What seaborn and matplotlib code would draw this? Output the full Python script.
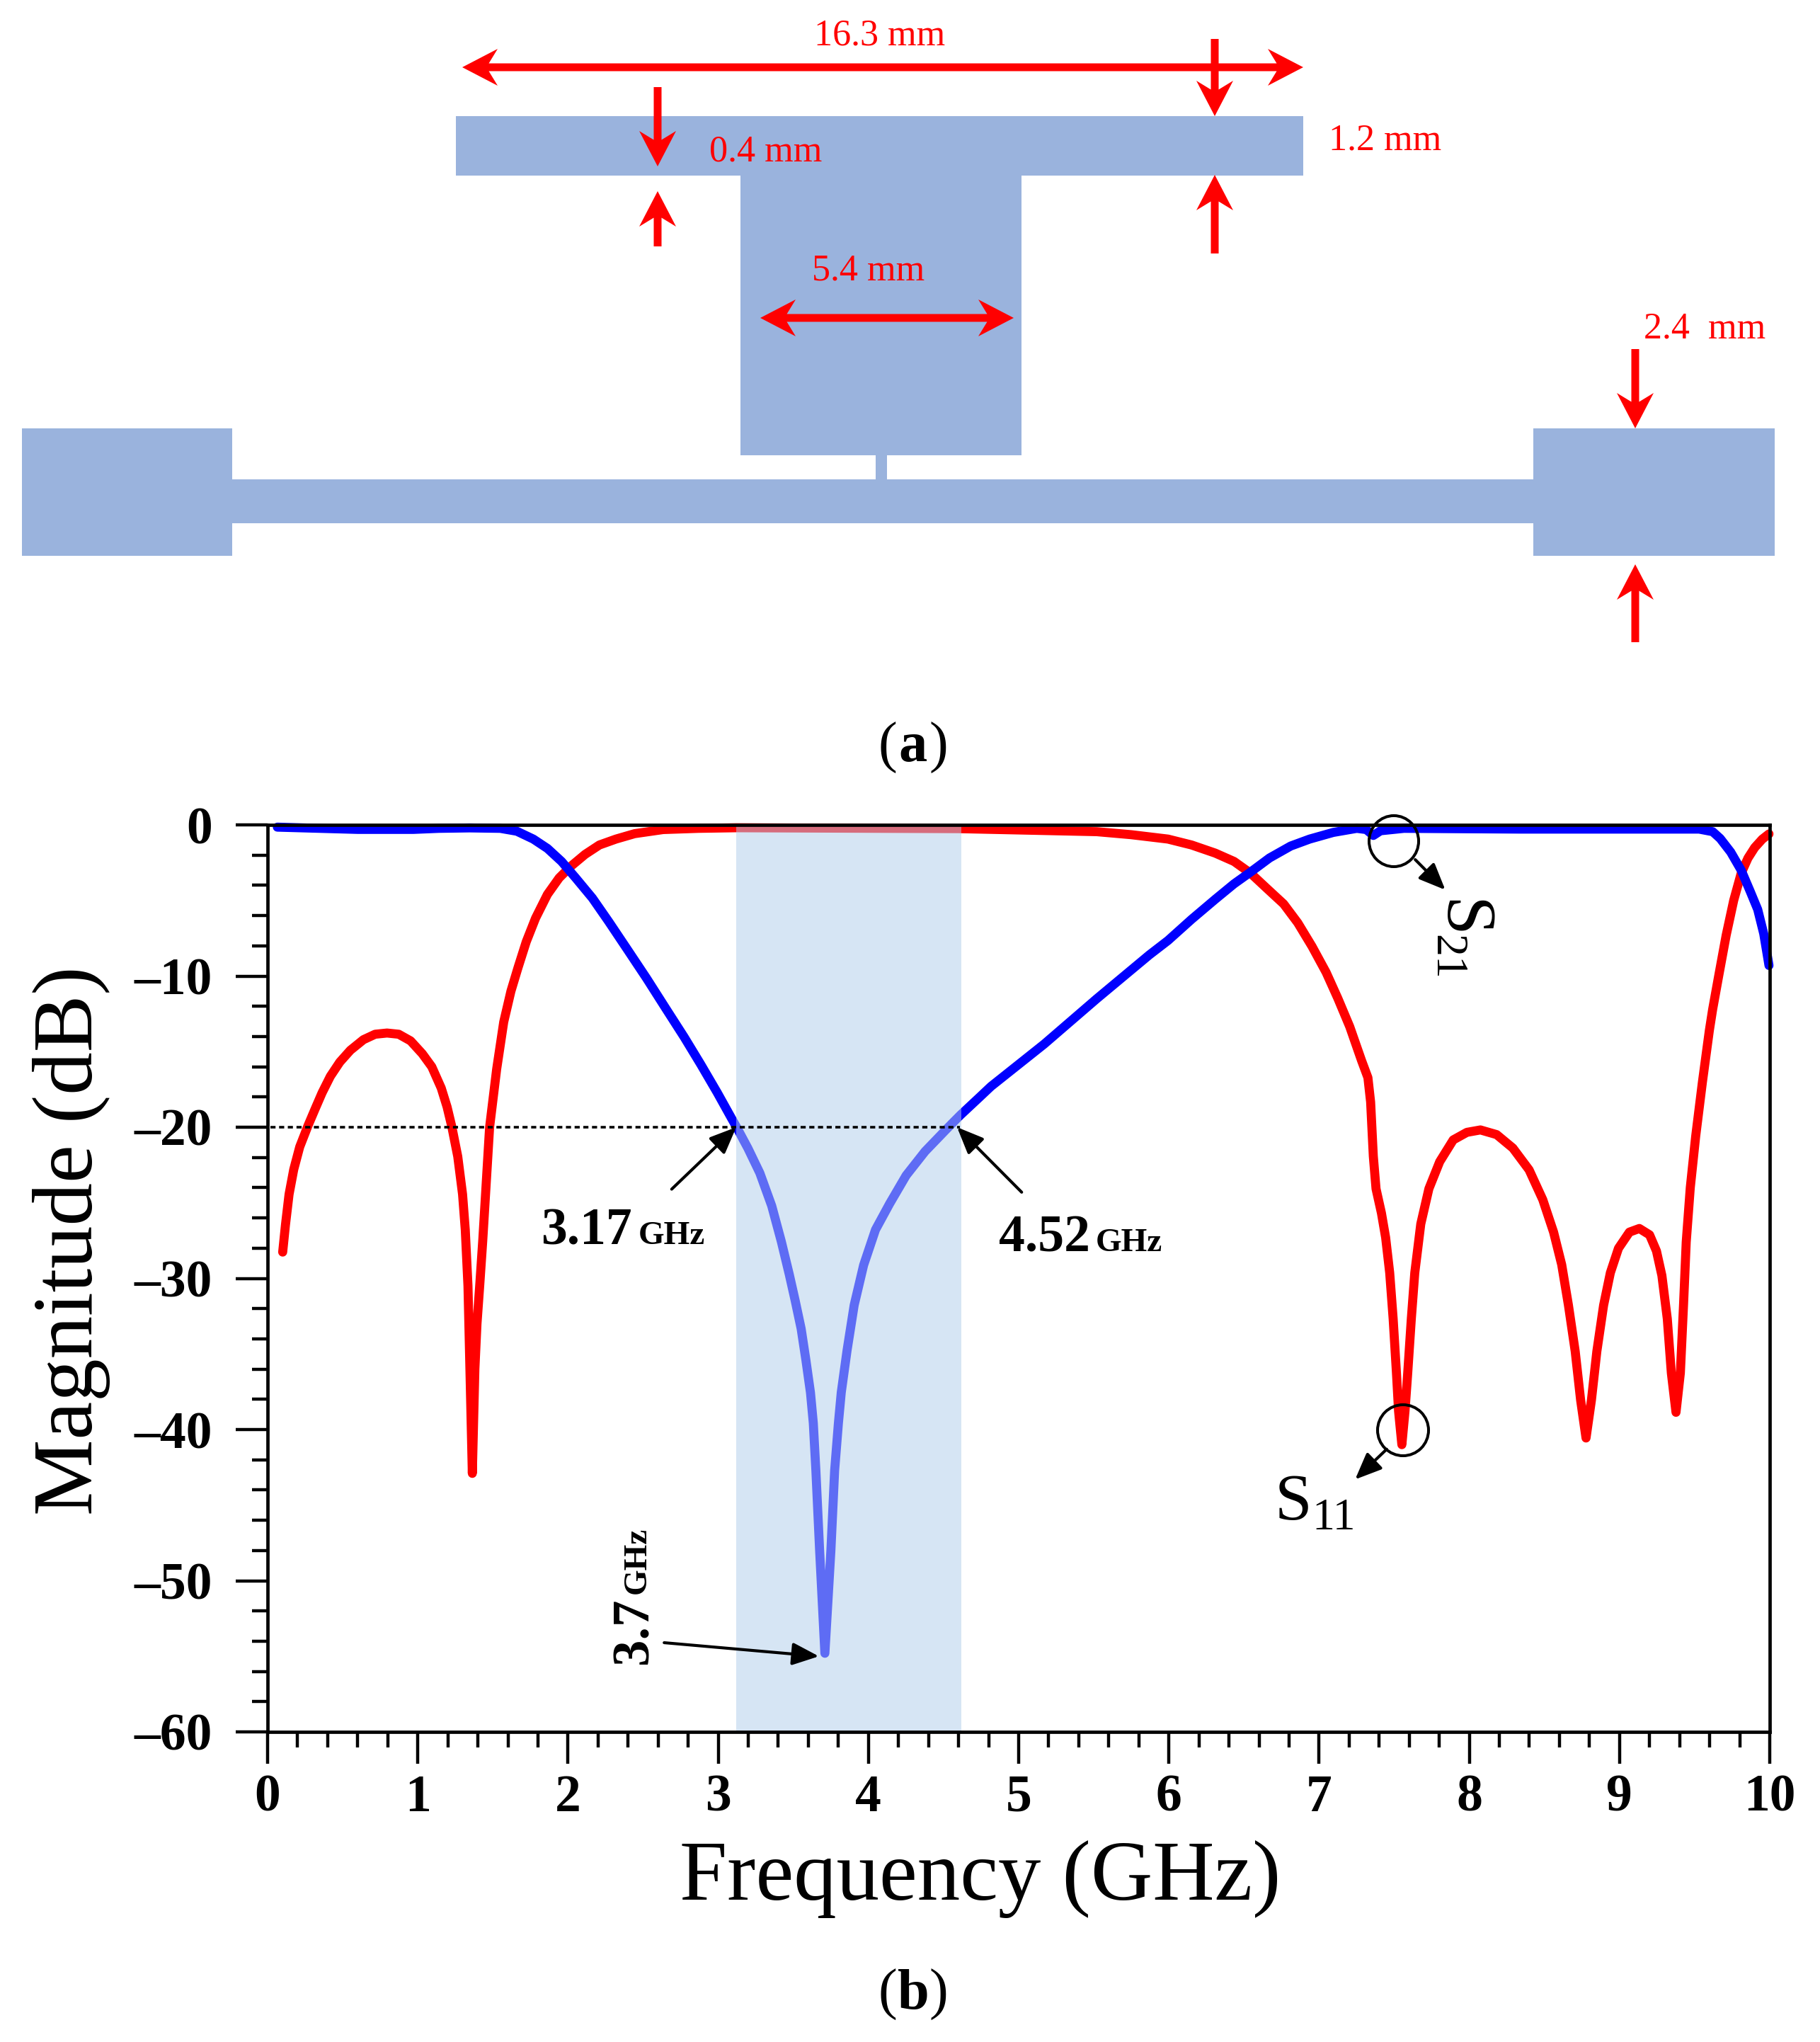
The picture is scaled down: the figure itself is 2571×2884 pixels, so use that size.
# S-parameter plot with the filter layout above it
import matplotlib
matplotlib.use('agg')
import matplotlib.pyplot as plt
from matplotlib.patches import Rectangle, Ellipse
from matplotlib.ticker import MultipleLocator
import seaborn as sns

s11_freq = [0.1005, 0.119, 0.143, 0.174, 0.214, 0.269, 0.316, 0.363, 0.418, 0.481, 0.551, 0.638, 0.716, 0.795,
            0.873, 0.952, 1.03, 1.093, 1.156, 1.195, 1.227, 1.266, 1.298, 1.316, 1.334, 1.347, 1.363, 1.38, 1.394,
            1.412, 1.432, 1.451, 1.478, 1.525, 1.572, 1.62, 1.667, 1.722, 1.784, 1.863, 1.941, 2.02, 2.114,
            2.209, 2.319, 2.444, 2.633, 2.868, 3.12, 4.6, 5.29, 5.52, 5.75, 5.994, 6.151, 6.309, 6.434, 6.544,
            6.654, 6.764, 6.858, 6.953, 7.047, 7.125, 7.204, 7.283, 7.325, 7.343, 7.361, 7.379, 7.415, 7.443,
            7.47, 7.493, 7.515, 7.529, 7.551, 7.572, 7.59, 7.614, 7.637, 7.677, 7.731, 7.803, 7.893, 7.984,
            8.074, 8.182, 8.29, 8.398, 8.489, 8.561, 8.615, 8.66, 8.705, 8.741, 8.777, 8.813, 8.849, 8.894,
            8.939, 8.993, 9.066, 9.132, 9.2, 9.246, 9.282, 9.318, 9.345, 9.376, 9.405, 9.426, 9.444, 9.471,
            9.507, 9.552, 9.598, 9.62, 9.66, 9.71, 9.76, 9.81, 9.855, 9.9, 9.95, 9.995]
s11_db = [-28.26, -26.46, -24.44, -22.8, -21.3, -19.9, -18.8, -17.72, -16.63, -15.69, -14.91, -14.21, -13.85, -13.77,
          -13.85, -14.29, -15.14, -16.0, -17.41, -18.66, -19.99, -21.94, -24.44, -26.78, -30.5, -36, -42.9, -36, -33,
          -30.5, -27.56, -24.44, -20.0, -16.16, -13.04, -11, -9.45, -7.73, -6.17, -4.6, -3.51, -2.73, -1.95,
          -1.33, -0.94, -0.58, -0.31, -0.23, -0.19, -0.25, -0.4, -0.45, -0.65, -0.94, -1.33, -1.87, -2.42, -3.2,
          -4.22, -5.23, -6.48, -8.04, -9.76, -11.48, -13.35, -15.6, -16.72, -18.33, -21.92, -24.07, -25.68, -27.3,
          -29.63, -32.67, -36.26, -38.77, -41.0, -38.77, -36.26, -32.67, -29.63, -26.4, -24.07, -22.28, -20.84, -20.34,
          -20.18, -20.49, -21.38, -22.82, -24.79, -26.94, -29.09, -31.78, -34.83, -38.05, -40.56, -38.05, -34.83, -31.78,
          -29.63, -28.01, -26.94, -26.7, -27.12, -28.19, -29.81, -32.67, -36.26, -38.86, -36.26, -31.78, -27.6, -24,
          -20.6, -17, -13.6, -12.2, -10, -7.3, -5, -3.2, -2.2, -1.5, -0.95, -0.6]

s21_freq = [0.065, 0.6, 0.97, 1.14, 1.345, 1.549, 1.659, 1.769, 1.863, 1.957, 2.051, 2.162, 2.271, 2.397, 2.523,
            2.648, 2.774, 2.884, 2.994, 3.088, 3.128, 3.198, 3.277, 3.356, 3.42, 3.473, 3.512, 3.552, 3.583,
            3.614, 3.633, 3.65, 3.675, 3.71, 3.75, 3.775, 3.8, 3.819, 3.858, 3.905, 3.968, 4.047, 4.141, 4.251,
            4.377, 4.503, 4.557, 4.612, 4.738, 4.816, 5.17, 5.52, 5.87, 5.994, 6.151, 6.309, 6.434, 6.544, 6.67,
            6.811, 6.937, 7.094, 7.251, 7.314, 7.361, 7.409, 7.565, 8.34, 9.53, 9.62, 9.67, 9.74, 9.81, 9.87,
            9.92, 9.96, 9.995]
s21_db = [-0.15, -0.3, -0.3, -0.23, -0.2, -0.23, -0.42, -0.94, -1.56, -2.42, -3.51, -4.84, -6.4, -8.27, -10.15,
          -12.1, -14.05, -15.85, -17.72, -19.4, -20.1, -21.4, -23.03, -25.2, -27.56, -29.74, -31.46, -33.33, -35.36,
          -37.55, -39.58, -42.7, -48, -54.8, -48, -42.7, -39.58, -37.55, -34.74, -31.77, -29.12, -26.78, -25.06, -23.19,
          -21.6, -20.3, -19.75, -19.2, -18.03, -17.3, -14.5, -11.5, -8.6, -7.65, -6.25, -4.92, -3.9, -3.12, -2.19,
          -1.4, -0.94, -0.5, -0.23, -0.31, -0.7, -0.39, -0.23, -0.28, -0.28, -0.45, -0.9, -1.8, -3, -4.4,
          -5.6, -7.2, -9.3]

band = [3.12, 4.616]
x_ticks = [0, 1, 2, 3, 4, 5, 6, 7, 8, 9, 10]
y_ticks = [0, -10, -20, -30, -40, -50, -60]
y_labels = ['0', '\u201310', '\u201320', '\u201330', '\u201340', '\u201350', '\u201360']

W, H = 2571, 2884
RED = '#ff0000'
PATCH = '#9ab3dd'
SERIF = 'Liberation Serif'

sns.set_theme(style='ticks')
plt.rcParams['font.family'] = [SERIF, 'DejaVu Sans']

fig = plt.figure(figsize=(W / 100, H / 100), dpi=100)
ax = fig.add_axes([378 / W, 1 - 2446 / H, (2500 - 378) / W, (2446 - 1165) / H])

sns.lineplot(x=s11_freq, y=s11_db, color='#ff0000', lw=9.2, ax=ax, estimator=None, sort=False,
             solid_joinstyle='round', solid_capstyle='round', clip_on=False, zorder=3)
sns.lineplot(x=s21_freq, y=s21_db, color='#0000ff', lw=9.2, ax=ax, estimator=None, sort=False,
             solid_joinstyle='round', solid_capstyle='round', clip_on=False, zorder=4)
ax.axvspan(band[0], band[1], facecolor='#b2ceec', alpha=0.53, lw=0, zorder=5)
ax.plot([0.02, 4.61], [-20, -20], color='black', lw=2.6, ls=(0, (2, 1.4)), zorder=6)

ax.set_xlim(0, 10)
ax.set_ylim(-60, 0)
ax.set_xticks(x_ticks)
ax.set_yticks(y_ticks)
ax.set_yticklabels(y_labels)
ax.xaxis.set_minor_locator(MultipleLocator(0.2))
ax.yaxis.set_minor_locator(MultipleLocator(2))
ax.tick_params(which='major', direction='out', length=32.4, width=3.2, labelsize=53, color='black', labelcolor='black')
ax.tick_params(which='minor', direction='out', length=15.5, width=3.2, color='black')
ax.tick_params(axis='x', which='major', pad=10.5)
ax.tick_params(axis='y', which='major', pad=24)
for lab in ax.get_xticklabels() + ax.get_yticklabels():
    lab.set_fontweight('bold')
for sp in ax.spines.values():
    sp.set_linewidth(3.4)
    sp.set_color('black')
    sp.set_visible(True)
    sp.set_zorder(7)
ax.set_xlabel('')
ax.set_ylabel('')


def black_arrow(tail, tip):
    ax.annotate('', xy=tip, xytext=tail, zorder=8,
                arrowprops=dict(arrowstyle='-|>,head_length=0.85,head_width=0.36', mutation_scale=27,
                                lw=3.0, color='black', shrinkA=0, shrinkB=0))


black_arrow((2.69, -24.1), (3.12, -20))
black_arrow((5.02, -24.3), (4.59, -20))
black_arrow((2.64, -54.1), (3.67, -55))
black_arrow((7.64, -2.3), (7.84, -4.3))
black_arrow((7.45, -41.3), (7.24, -43.3))

# overlay in pixel units for the layout and the loose labels
ov = fig.add_axes([0, 0, 1, 1], zorder=10)
ov.set_xlim(0, W)
ov.set_ylim(H, 0)
ov.axis('off')
ov.patch.set_alpha(0)

for x0, y0, x1, y1 in [(644, 164, 1841, 248), (1046, 248, 1443, 643), (1237, 643, 1253, 678),
                       (328, 677, 2166, 739), (31, 605, 328, 785), (2166, 605, 2507, 785)]:
    ov.add_patch(Rectangle((x0, y0), x1 - x0, y1 - y0, fc=PATCH, ec='none'))


def red_arrow(x0, y0, x1, y1):
    ov.arrow(x0, y0, x1 - x0, y1 - y0, width=11, head_width=52, head_length=50, overhang=0.25,
             length_includes_head=True, fc=RED, ec='none')


# double headed dimension arrows
red_arrow(1245, 95, 653, 95)
red_arrow(1245, 95, 1841, 95)
red_arrow(1252, 449, 1074, 449)
red_arrow(1252, 449, 1432, 449)
# single dimension arrows
red_arrow(1716, 55, 1716, 164)
red_arrow(1716, 358, 1716, 247)
red_arrow(929, 123, 929, 235)
red_arrow(929, 348, 929, 270)
red_arrow(2310, 493, 2310, 605)
red_arrow(2310, 907, 2310, 797)

for label, px, py in [('16.3 mm', 1243, 50), ('0.4 mm', 1082, 214), ('1.2 mm', 1957, 199),
                      ('5.4 mm', 1227, 383), ('2.4  mm', 2408, 464)]:
    ov.text(px, py, label, color=RED, fontsize=37.5, ha='center', va='center', family=SERIF)

for label, px in [('(', 1254), ('a', 1290), (')', 1326)]:
    ov.text(px, 1056, label, fontsize=58, ha='center', va='center', family=SERIF,
            fontweight='bold' if label == 'a' else 'normal', color='black')
for label, px in [('(', 1254), ('b', 1290), (')', 1326)]:
    ov.text(px, 2817, label, fontsize=58, ha='center', va='center', family=SERIF,
            fontweight='bold' if label == 'b' else 'normal', color='black')

ov.text(1385, 2654, 'Frequency (GHz)', fontsize=87, ha='center', va='center', family=SERIF, color='black')
ov.text(101, 1752, 'Magnitude (dB)', fontsize=87, ha='center', va='center', rotation=90, family=SERIF, color='black')

# frequency callouts
ov.text(764, 1757, '3.17', fontsize=53, fontweight='bold', ha='left', va='baseline', family=SERIF, color='black')
ov.text(902, 1757, 'GHz', fontsize=34, fontweight='bold', ha='left', va='baseline', family=SERIF, color='black')
ov.text(1411, 1767, '4.52', fontsize=53, fontweight='bold', ha='left', va='baseline', family=SERIF, color='black')
ov.text(1548, 1767, 'GHz', fontsize=34, fontweight='bold', ha='left', va='baseline', family=SERIF, color='black')
ov.text(897, 2303, '3.7', fontsize=54, fontweight='bold', ha='center', va='center', rotation=90, family=SERIF, color='black')
ov.text(901, 2204, 'GHz', fontsize=34, fontweight='bold', ha='center', va='center', rotation=90, family=SERIF, color='black')

# S labels and their circles
ov.text(1801, 2146, 'S', fontsize=68, ha='left', va='baseline', family=SERIF, color='black')
ov.text(1853, 2160, '11', fontsize=46, ha='left', va='baseline', family=SERIF, color='black')
ov.text(2062, 1298, 'S', fontsize=72, ha='center', va='center', rotation=270, family=SERIF, color='black')
ov.text(2042, 1352, '21', fontsize=46, ha='center', va='center', rotation=270, family=SERIF, color='black')
ov.add_patch(Ellipse((1969, 1188), 70, 72, fc='none', ec='black', lw=2.9))
ov.add_patch(Ellipse((1982, 2020), 72, 72, fc='none', ec='black', lw=2.9))

fig.savefig('out.png', dpi=100, facecolor='white')
